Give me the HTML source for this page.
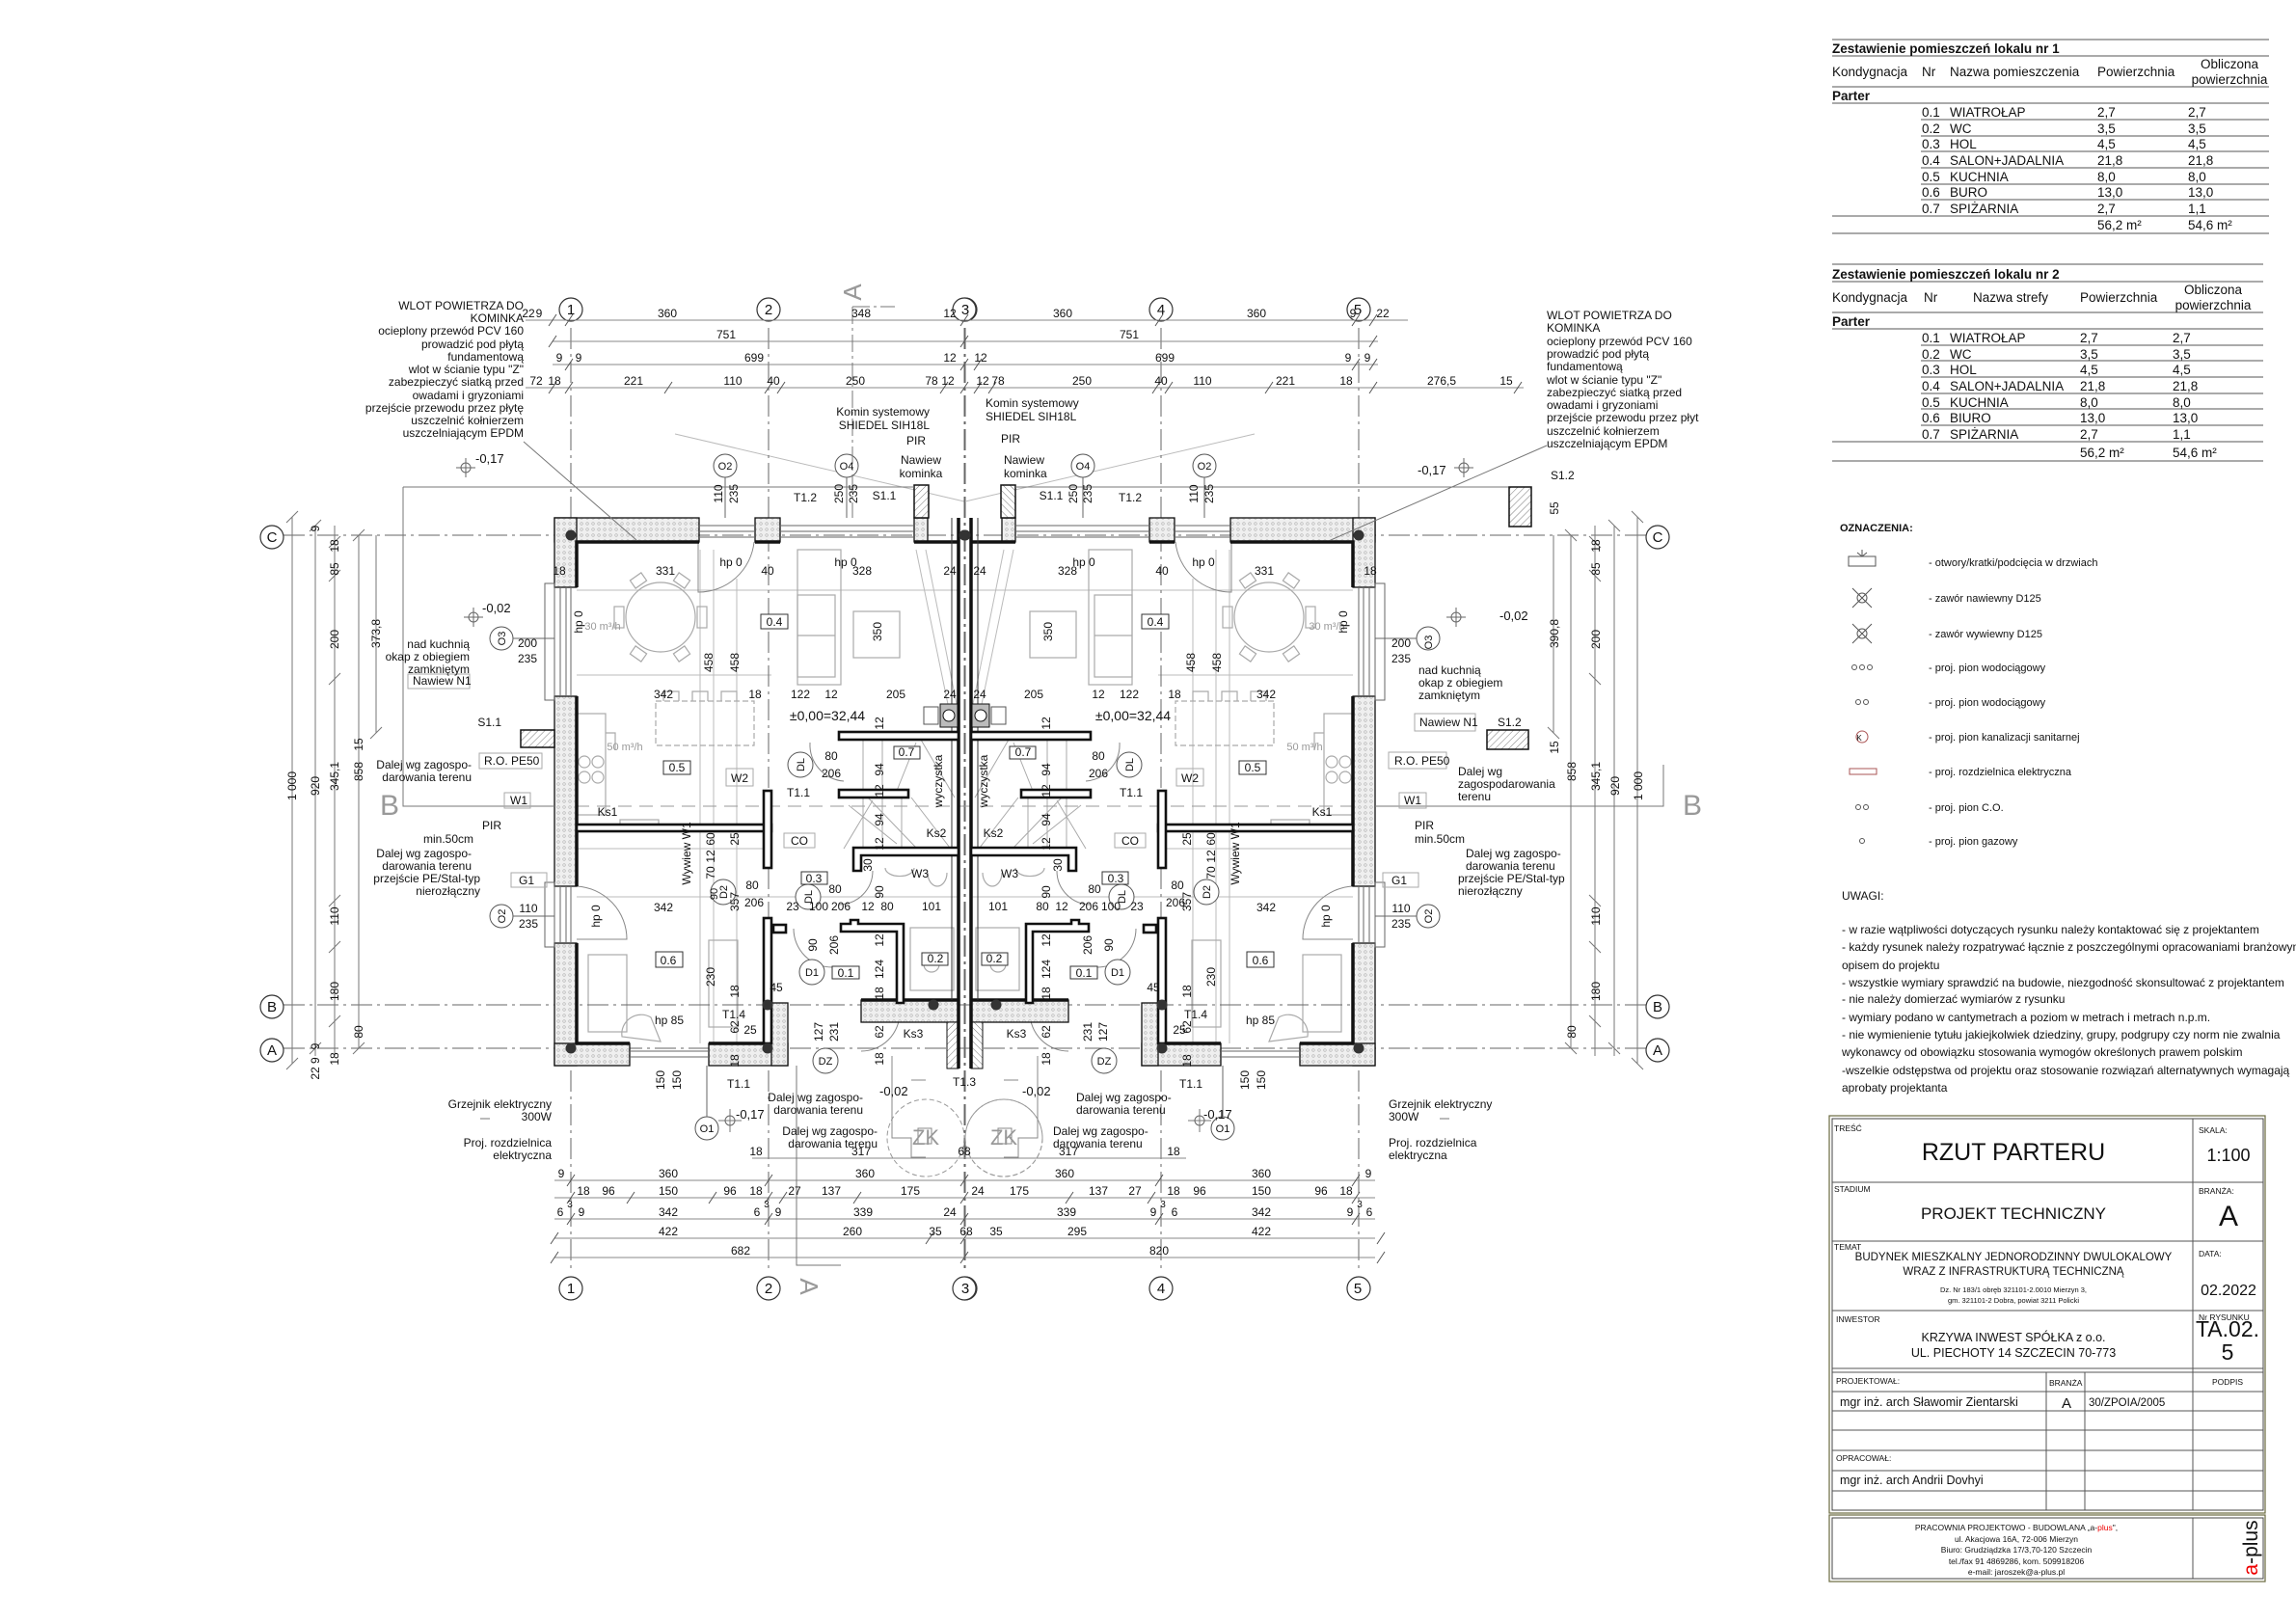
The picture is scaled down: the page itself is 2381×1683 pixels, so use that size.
<!DOCTYPE html>
<html><head><meta charset="utf-8"><style>
html,body{margin:0;padding:0;background:#fff}
svg{display:block}
text{font-family:"Liberation Sans",Arial,sans-serif;fill:#111}
.d{font-size:12px}
.s{font-size:11px}
.g{fill:#999}
.t{font-size:13.5px}
</style></head><body>
<svg width="2381" height="1683" viewBox="0 0 2381 1683" xmlns="http://www.w3.org/2000/svg">
<defs>
<pattern id="ins" width="6" height="6" patternUnits="userSpaceOnUse"><rect width="6" height="6" fill="#efefef"/><circle cx="3" cy="3" r="1.3" fill="none" stroke="#b0b0b0" stroke-width=".6"/></pattern>
<pattern id="hat" width="5" height="5" patternUnits="userSpaceOnUse" patternTransform="rotate(45)"><rect width="5" height="5" fill="#fff"/><line x1="0" y1="0" x2="0" y2="5" stroke="#777" stroke-width="1"/></pattern>
<g id="half">
 <!-- terrace/hatch lines gray -->
 <g stroke="#bbb" stroke-width="1" fill="none">
  <line x1="700" y1="450" x2="1000" y2="520"/>
  <line x1="598" y1="700" x2="800" y2="700"/>
  <line x1="598" y1="612" x2="993" y2="612"/>
  <line x1="598" y1="930" x2="993" y2="930"/>
  <line x1="598" y1="880" x2="800" y2="880"/>
  <line x1="726" y1="570" x2="726" y2="1082"/>
  <line x1="740" y1="570" x2="740" y2="1082"/>
  <line x1="764" y1="600" x2="764" y2="1082"/>
  <line x1="950" y1="570" x2="985" y2="740"/>
  <line x1="960" y1="570" x2="994" y2="740"/>
 </g>
 <!-- furniture -->
 <g stroke="#aaa" stroke-width="1.2" fill="none">
  <circle cx="685" cy="640" r="36"/>
  <rect x="637" y="629" width="10" height="22"/><rect x="723" y="629" width="10" height="22"/>
  <rect x="655" y="597" width="14" height="10" transform="rotate(-35 662 602)"/><rect x="700" y="597" width="14" height="10" transform="rotate(35 707 602)"/>
  <rect x="655" y="673" width="14" height="10" transform="rotate(35 662 678)"/><rect x="700" y="673" width="14" height="10" transform="rotate(-35 707 678)"/>
  <rect x="827" y="617" width="39" height="85"/><line x1="827" y1="659" x2="866" y2="659"/>
  <rect x="827" y="570" width="45" height="140"/>
  <rect x="885" y="634" width="48" height="48"/>
  <rect x="680" y="727" width="102" height="46" stroke-dasharray="6 3"/>
  <path d="M688 727v-10h16v10M718 727v-10h16v10M748 727v-10h16v10"/>
  <rect x="598" y="740" width="30" height="105"/>
  <path d="M628 760h10v18"/>
  <rect x="643" y="850" width="40" height="10"/>
  <circle cx="606" cy="790" r="6"/><circle cx="620" cy="790" r="6"/><circle cx="606" cy="806" r="6"/><circle cx="620" cy="806" r="6"/>
  <rect x="735" y="975" width="30" height="90"/>
  <rect x="610" y="990" width="40" height="80"/>
  <path d="M645 1075a20 20 0 0 1 30 -20l10 25z"/>
  <rect x="944" y="962" width="45" height="65"/>
  <circle cx="966" cy="1000" r="8"/>
  <path d="M918 900a14 8 0 1 0 30 0M962 905a10 14 0 1 0 20 0"/>
 </g>
 <!-- stairs -->
 <g stroke="#aaa" stroke-width="1" fill="none">
  <path d="M895 767v112M915 767v112M935 827v52M955 767l35 60M945 827l40 52M900 827l50 52M950 770l-20 50"/>
  <path d="M875 880l30 -50M880 835l50 40"/>
 </g>
 <!-- doors -->
 <g stroke="#888" stroke-width="1" fill="none">
  <path d="M724 562v52a58 58 0 0 0 58 -52"/>
  <path d="M598 919h52a55 55 0 0 0 -52 -55" transform="translate(0,55)"/>
  <path d="M823 963a40 40 0 0 0 40 40"/>
  <path d="M905 903a35 35 0 0 1 -35 35"/>
  <path d="M840 770a38 38 0 0 0 35 40"/>
  <path d="M933 1050a40 40 0 0 1 -40 40"/>
 </g>
 <!-- grid lines -->
 <g stroke="#666" stroke-width="1" stroke-dasharray="22 5 3 5" fill="none">
  <line x1="592" y1="340" x2="592" y2="1320"/>
  <line x1="797" y1="340" x2="797" y2="1320"/>
  <line x1="1001" y1="340" x2="1001" y2="1320"/>
  <line x1="294" y1="555" x2="1001" y2="555"/>
  <line x1="294" y1="1042" x2="1001" y2="1042"/>
  <line x1="294" y1="1087" x2="1001" y2="1087"/>
 </g>
 <line x1="575" y1="836" x2="1001" y2="836" stroke="#999" stroke-dasharray="14 8"/>
 <!-- outer walls -->
 <g fill="url(#ins)" stroke="#111" stroke-width="1.3">
  <rect x="575" y="537" width="150" height="25"/>
  <rect x="783" y="537" width="26" height="25"/>
  <rect x="948" y="537" width="14" height="25"/>
  <rect x="575" y="537" width="23" height="72"/>
  <rect x="575" y="722" width="23" height="197"/>
  <rect x="575" y="978" width="23" height="127"/>
  <rect x="575" y="1082" width="78" height="23"/>
  <rect x="735" y="1082" width="82" height="23"/>
  <rect x="800" y="1040" width="17" height="65"/>
  <rect x="893" y="1037" width="101" height="23"/>
 </g>
 <rect x="982" y="1060" width="12" height="48" fill="url(#hat)" stroke="#111"/>
 <rect x="948" y="503" width="15" height="34" fill="url(#hat)" stroke="#111" stroke-width="1.5"/>
 <g stroke="#111" stroke-width="3.5" fill="none">
  <path d="M598 609V562H725M783 562H809M948 562H994"/>
  <path d="M598 722V919M598 978V1082H653M735 1082H800"/>
  <path d="M893 1037H994"/>
 </g>
 <!-- windows -->
 <g stroke="#666" stroke-width="1" fill="none">
  <path d="M725 545H783M725 551H783M725 557H783"/>
  <path d="M809 545H948M809 551H948M809 557H948"/>
  <path d="M581 609V722M587 609V722M592 609V722"/>
  <rect x="565" y="605" width="10" height="121"/>
  <path d="M581 919V978M587 919V978M592 919V978"/>
  <rect x="565" y="915" width="10" height="67"/>
  <path d="M653 1090H735M653 1096H735"/>
 </g>
 <!-- party wall -->
 <line x1="994" y1="537" x2="994" y2="1108" stroke="#111" stroke-width="3.5"/>
 <line x1="987" y1="537" x2="987" y2="1037" stroke="#333" stroke-width="1"/>
 <!-- interior walls -->
 <g fill="#fff" stroke="#111" stroke-width="2.6">
  <rect x="598" y="855" width="202" height="7"/>
  <rect x="792" y="820" width="8" height="80"/>
  <rect x="792" y="952" width="8" height="130"/>
  <rect x="870" y="759" width="124" height="8"/>
  <rect x="870" y="819" width="72" height="8"/>
  <path d="M885 879H994v8H893v16h-8z"/>
  <path d="M872 958h10v-4h8v4h47v82h-7v-74h-58z"/>
  <rect x="802" y="959" width="13" height="8"/>
 </g>
 <g fill="#bbb" stroke="#111"><rect x="975" y="730" width="18" height="24"/><circle cx="984" cy="742" r="6" fill="#fff"/></g>
 <rect x="958" y="733" width="15" height="18" fill="#fff" stroke="#555"/>
 <!-- columns -->
 <g fill="#333"><circle cx="592" cy="555" r="5.5"/><circle cx="1000" cy="555" r="5.5"/><circle cx="592" cy="1087" r="5.5"/><circle cx="796" cy="1087" r="5.5"/><circle cx="796" cy="1042" r="5.5"/><circle cx="968" cy="1042" r="5.5"/></g>
 <!-- vertical dims left -->
 <g stroke="#777" stroke-width="1" fill="none">
  <line x1="303" y1="536" x2="303" y2="1103"/><line x1="327" y1="545" x2="327" y2="1095"/>
  <line x1="347" y1="545" x2="347" y2="1095"/><line x1="372" y1="555" x2="372" y2="1087"/>
  <line x1="390" y1="555" x2="390" y2="760"/>
  <path d="M297 542l12-12M321 551l12-12M341 568l12-12M341 603l12-12M341 710l12-12M341 940l12-12M341 988l12-12M341 1065l12-12M366 561l12-12M366 1093l12-12M384 766l12-12M321 1093l12-12M297 1109l12-12"/>
  <path d="M498 1160h10M757 1150v24M745 1162h24"/>
 </g>
 <!-- ZK -->
 <circle cx="960" cy="1180" r="40" fill="none" stroke="#999" stroke-dasharray="5 3"/>
 <path d="M925 1095v85h20v20h15M945 1120h15" fill="none" stroke="#888"/>
 <rect x="952" y="1170" width="14" height="16" fill="none" stroke="#888"/>
 <!-- circle markers -->
 <g fill="#fff" stroke="#555" stroke-width="1">
  <circle cx="830" cy="793" r="13"/><circle cx="838" cy="930" r="13"/><circle cx="842" cy="1008" r="13"/><circle cx="856" cy="1100" r="13"/><circle cx="750" cy="925" r="13"/>
  <circle cx="752" cy="483" r="12"/><circle cx="878" cy="483" r="12"/><circle cx="520" cy="662" r="12"/><circle cx="520" cy="950" r="12"/><circle cx="733" cy="1170" r="12"/>
 </g>
 <g stroke="#666" fill="none">
  <line x1="752" y1="495" x2="752" y2="537"/><line x1="878" y1="495" x2="878" y2="537"/>
  <line x1="532" y1="662" x2="575" y2="662"/><line x1="532" y1="950" x2="575" y2="950"/><line x1="733" y1="1158" x2="733" y2="1105"/>
  <path d="M473 485h20M483 475v20"/><circle cx="483" cy="485" r="5"/>
  <path d="M481 640h20M491 630v20"/><circle cx="491" cy="640" r="5"/>
  <circle cx="757" cy="1162" r="5"/>
 </g>
 <!-- grid circles -->
 <g fill="#fff" stroke="#333" stroke-width="1.2">
  <circle cx="592" cy="321" r="12"/><circle cx="797" cy="321" r="12"/><circle cx="1001" cy="321" r="12"/>
  <circle cx="592" cy="1336" r="12"/><circle cx="797" cy="1336" r="12"/><circle cx="1001" cy="1336" r="12"/>
  <circle cx="282" cy="557" r="12"/><circle cx="282" cy="1044" r="12"/><circle cx="282" cy="1089" r="12"/>
 </g>
</g>
</defs>

<use href="#half"/>
<use href="#half" transform="translate(2001,0) scale(-1,1)"/>

<!-- horizontal dims top/bottom -->
<g stroke="#888" stroke-width="1">
 <line x1="545" y1="332" x2="1460" y2="332"/><line x1="573" y1="354" x2="1429" y2="354"/>
 <line x1="573" y1="378" x2="1429" y2="378"/><line x1="545" y1="402" x2="1580" y2="402"/>
 <line x1="780" y1="1201" x2="1230" y2="1201"/><line x1="575" y1="1224" x2="1426" y2="1224"/>
 <line x1="575" y1="1242" x2="1426" y2="1242"/><line x1="575" y1="1264" x2="1426" y2="1264"/>
 <line x1="575" y1="1284" x2="1426" y2="1284"/><line x1="575" y1="1304" x2="1426" y2="1304"/>
</g>
<g stroke="#555" stroke-width="1">
 <path d="M569 338l8-12M586 338l8-12M996 338l8-12M1198 338l8-12M1402 338l8-12M1420 338l8-12"/>
 <path d="M569 360l8-12M996 360l8-12M1420 360l8-12"/>
 <path d="M586 384l8-12M996 384l8-12M1010 384l8-12M1402 384l8-12M1420 384l8-12"/>
 <path d="M569 408l8-12M586 408l8-12M689 408l8-12M793 408l8-12M806 408l8-12M975 408l8-12M996 408l8-12M1010 408l8-12M1025 408l8-12M1195 408l8-12M1208 408l8-12M1312 408l8-12M1420 408l8-12M1570 408l8-12"/>
 <path d="M588 1230l8-12M793 1230l8-12M996 1230l8-12M1198 1230l8-12M1402 1230l8-12M588 1248l8-12M650 1248l8-12M735 1248l8-12M793 1248l8-12M808 1248l8-12M885 1248l8-12M996 1248l8-12M1105 1248l8-12M1190 1248l8-12M1402 1248l8-12"/>
 <path d="M588 1270l8-12M793 1270l8-12M996 1270l8-12M1198 1270l8-12M1402 1270l8-12M571 1290l8-12M960 1290l8-12M996 1290l8-12M1428 1290l8-12M571 1310l8-12M996 1310l8-12M1428 1310l8-12"/>
</g>
<!-- terrace & section lines -->
<g stroke="#777" stroke-width="1" fill="none">
 <path d="M418 505H948M418 505V836H575"/>
 <path d="M1053 505H1565"/>
 <path d="M1426 836H1725V793"/>
 <path d="M884 318H928M884 318V537" stroke-dasharray="18 4 3 4"/>
 <path d="M826 1105V1312H872"/>
 <line x1="543" y1="458" x2="660" y2="560"/><line x1="1604" y1="462" x2="1380" y2="560"/>
</g>
<rect x="1565" y="505" width="23" height="41" fill="url(#hat)" stroke="#111" stroke-width="1.5"/>
<rect x="540" y="757" width="35" height="18" fill="url(#hat)" stroke="#111" stroke-width="1.5"/>
<rect x="1542" y="757" width="43" height="20" fill="url(#hat)" stroke="#111" stroke-width="1.5"/>
<circle cx="1041" cy="1180" r="40" fill="none" stroke="#999" stroke-dasharray="5 3"/>
<!-- boxes for labels -->
<g fill="#fff" stroke="#333" stroke-width="1">
 <rect x="789" y="637" width="28" height="15"/><rect x="1184" y="637" width="28" height="15"/>
 <rect x="688" y="789" width="28" height="14"/><rect x="1285" y="789" width="28" height="14"/>
 <rect x="927" y="774" width="27" height="13"/><rect x="1047" y="774" width="27" height="13"/>
 <rect x="831" y="904" width="27" height="13"/><rect x="1143" y="904" width="27" height="13"/>
 <rect x="680" y="987" width="28" height="16"/><rect x="1293" y="987" width="28" height="16"/>
 <rect x="863" y="1002" width="28" height="13"/><rect x="1110" y="1002" width="28" height="13"/>
 <rect x="956" y="988" width="27" height="13"/><rect x="1018" y="988" width="27" height="13"/>
</g>
<g fill="none" stroke="#aaa" stroke-width="1">
 <rect x="753" y="797" width="28" height="18"/><rect x="1220" y="797" width="28" height="18"/>
 <rect x="813" y="864" width="32" height="15"/><rect x="1156" y="864" width="32" height="15"/>
 <rect x="423" y="699" width="64" height="15"/><rect x="1467" y="740" width="63" height="18"/>
 <rect x="497" y="781" width="65" height="16"/><rect x="1440" y="780" width="60" height="17"/>
 <rect x="523" y="822" width="27" height="16"/><rect x="1451" y="822" width="28" height="16"/>
 <rect x="530" y="905" width="37" height="15"/><rect x="1434" y="905" width="37" height="15"/>
</g>

<!-- TEXT: plan -->
<g class="d" text-anchor="middle">
 <text x="592" y="326" font-size="15">1</text><text x="797" y="326" font-size="15">2</text><text x="1001" y="326" font-size="15">3</text><text x="1204" y="326" font-size="15">4</text><text x="1408" y="326" font-size="15">5</text>
 <text x="592" y="1341" font-size="15">1</text><text x="797" y="1341" font-size="15">2</text><text x="1001" y="1341" font-size="15">3</text><text x="1204" y="1341" font-size="15">4</text><text x="1408" y="1341" font-size="15">5</text>
 <text x="282" y="562" font-size="15">C</text><text x="282" y="1049" font-size="15">B</text><text x="282" y="1094" font-size="15">A</text>
 <text x="1719" y="562" font-size="15">C</text><text x="1719" y="1049" font-size="15">B</text><text x="1719" y="1094" font-size="15">A</text>
 <text x="548" y="329">22</text><text x="559" y="329">9</text><text x="692" y="329">360</text><text x="893" y="329">348</text><text x="985" y="329">12</text><text x="1102" y="329">360</text><text x="1303" y="329">360</text><text x="1403" y="329">9</text><text x="1434" y="329">22</text>
 <text x="753" y="351">751</text><text x="1171" y="351">751</text>
 <text x="580" y="375">9</text><text x="600" y="375">9</text><text x="782" y="375">699</text><text x="985" y="375">12</text><text x="1017" y="375">12</text><text x="1208" y="375">699</text><text x="1398" y="375">9</text><text x="1418" y="375">9</text>
 <text x="556" y="399">72</text><text x="575" y="399">18</text><text x="657" y="399">221</text><text x="760" y="399">110</text><text x="802" y="399">40</text><text x="887" y="399">250</text><text x="966" y="399">78</text><text x="983" y="399">12</text><text x="1019" y="399">12</text><text x="1035" y="399">78</text><text x="1122" y="399">250</text><text x="1204" y="399">40</text><text x="1247" y="399">110</text><text x="1333" y="399">221</text><text x="1396" y="399">18</text><text x="1495" y="399">276,5</text><text x="1562" y="399">15</text>
 <text x="784" y="1198">18</text><text x="893" y="1198">317</text><text x="1000" y="1198">68</text><text x="1108" y="1198">317</text><text x="1217" y="1198">18</text>
 <text x="582" y="1221">9</text><text x="693" y="1221">360</text><text x="897" y="1221">360</text><text x="1104" y="1221">360</text><text x="1308" y="1221">360</text><text x="1419" y="1221">9</text>
 <text x="605" y="1239">18</text><text x="631" y="1239">96</text><text x="693" y="1239">150</text><text x="757" y="1239">96</text><text x="784" y="1239">18</text><text x="824" y="1239">27</text><text x="862" y="1239">137</text><text x="944" y="1239">175</text><text x="1014" y="1239">24</text><text x="1057" y="1239">175</text><text x="1139" y="1239">137</text><text x="1177" y="1239">27</text><text x="1217" y="1239">18</text><text x="1244" y="1239">96</text><text x="1308" y="1239">150</text><text x="1370" y="1239">96</text><text x="1396" y="1239">18</text>
 <text x="591" y="1252" font-size="10">3</text><text x="795" y="1252" font-size="10">3</text><text x="1206" y="1252" font-size="10">3</text><text x="1410" y="1252" font-size="10">3</text>
 <text x="581" y="1261">6</text><text x="603" y="1261">9</text><text x="693" y="1261">342</text><text x="785" y="1261">6</text><text x="807" y="1261">9</text><text x="895" y="1261">339</text><text x="985" y="1261">24</text><text x="1106" y="1261">339</text><text x="1196" y="1261">9</text><text x="1218" y="1261">6</text><text x="1308" y="1261">342</text><text x="1400" y="1261">9</text><text x="1420" y="1261">6</text>
 <text x="693" y="1281">422</text><text x="884" y="1281">260</text><text x="970" y="1281">35</text><text x="1002" y="1281">68</text><text x="1033" y="1281">35</text><text x="1117" y="1281">295</text><text x="1308" y="1281">422</text>
 <text x="768" y="1301">682</text><text x="1202" y="1301">820</text>
 <!-- interior -->
 <text x="580" y="596">18</text><text x="690" y="596">331</text><text x="796" y="596">40</text><text x="894" y="596">328</text><text x="985" y="596">24</text>
 <text x="1421" y="596">18</text><text x="1311" y="596">331</text><text x="1205" y="596">40</text><text x="1107" y="596">328</text><text x="1016" y="596">24</text>
 <text x="758" y="587">hp 0</text><text x="877" y="587">hp 0</text><text x="1124" y="587">hp 0</text><text x="1248" y="587">hp 0</text>
 <text x="803" y="649">0.4</text><text x="1198" y="649">0.4</text>
 <text x="688" y="724">342</text><text x="783" y="724">18</text><text x="830" y="724">122</text><text x="862" y="724">12</text><text x="929" y="724">205</text><text x="985" y="724">24</text>
 <text x="1313" y="724">342</text><text x="1218" y="724">18</text><text x="1171" y="724">122</text><text x="1139" y="724">12</text><text x="1072" y="724">205</text><text x="1016" y="724">24</text>
 <text x="858" y="747" font-size="14">±0,00=32,44</text><text x="1175" y="747" font-size="14">±0,00=32,44</text>
 <text x="940" y="784">0.7</text><text x="1061" y="784">0.7</text>
 <text x="862" y="788">80</text><text x="862" y="806">206</text><text x="1139" y="788">80</text><text x="1139" y="806">206</text>
 <text x="702" y="800">0.5</text><text x="1299" y="800">0.5</text>
 <text x="767" y="811">W2</text><text x="1234" y="811">W2</text>
 <text x="828" y="826">T1.1</text><text x="1173" y="826">T1.1</text>
 <text x="630" y="846">Ks1</text><text x="1371" y="846">Ks1</text>
 <text x="971" y="868">Ks2</text><text x="1030" y="868">Ks2</text>
 <text x="829" y="876">CO</text><text x="1172" y="876">CO</text>
 <text x="844" y="915">0.3</text><text x="1157" y="915">0.3</text>
 <text x="954" y="910">W3</text><text x="1047" y="910">W3</text>
 <text x="780" y="922">80</text><text x="782" y="940">206</text><text x="1221" y="922">80</text><text x="1219" y="940">206</text>
 <text x="866" y="926">80</text><text x="1135" y="926">80</text>
 <text x="688" y="945">342</text><text x="1313" y="945">342</text>
 <text x="822" y="944">23</text><text x="849" y="944">100</text><text x="872" y="944">206</text><text x="900" y="944">12</text><text x="920" y="944">80</text><text x="966" y="944">101</text>
 <text x="1179" y="944">23</text><text x="1152" y="944">100</text><text x="1129" y="944">206</text><text x="1101" y="944">12</text><text x="1081" y="944">80</text><text x="1035" y="944">101</text>
 <text x="970" y="998">0.2</text><text x="1031" y="998">0.2</text>
 <text x="693" y="1000">0.6</text><text x="1307" y="1000">0.6</text>
 <text x="877" y="1013">0.1</text><text x="1124" y="1013">0.1</text>
 <text x="805" y="1028">45</text><text x="1196" y="1028">45</text>
 <text x="761" y="1056">T1.4</text><text x="1240" y="1056">T1.4</text>
 <text x="694" y="1062">hp 85</text><text x="1307" y="1062">hp 85</text>
 <text x="778" y="1072">25</text><text x="1223" y="1072">25</text>
 <text x="947" y="1076">Ks3</text><text x="1054" y="1076">Ks3</text>
 <text x="766" y="1128">T1.1</text><text x="1000" y="1126">T1.3</text><text x="1235" y="1128">T1.1</text>
 <text x="830" y="797" font-size="11" transform="rotate(-90 830 793)">DL</text><text x="1171" y="797" font-size="11" transform="rotate(-90 1171 793)">DL</text>
 <text x="838" y="934" font-size="11" transform="rotate(-90 838 930)">DL</text><text x="1163" y="934" font-size="11" transform="rotate(-90 1163 930)">DL</text>
 <text x="750" y="929" font-size="11" transform="rotate(-90 750 925)">D2</text><text x="1251" y="929" font-size="11" transform="rotate(-90 1251 925)">D2</text>
 <text x="842" y="1012" font-size="11">D1</text><text x="1159" y="1012" font-size="11">D1</text>
 <text x="856" y="1104" font-size="11">DZ</text><text x="1145" y="1104" font-size="11">DZ</text>
 <text x="752" y="487" font-size="11">O2</text><text x="878" y="487" font-size="11">O4</text><text x="1123" y="487" font-size="11">O4</text><text x="1249" y="487" font-size="11">O2</text>
 <text x="520" y="666" font-size="11" transform="rotate(-90 520 662)">O3</text><text x="520" y="954" font-size="11" transform="rotate(-90 520 950)">O2</text>
 <text x="1481" y="670" font-size="11" transform="rotate(-90 1481 666)">O3</text><text x="1481" y="954" font-size="11" transform="rotate(-90 1481 950)">O2</text>
 <text x="733" y="1174" font-size="11">O1</text><text x="1268" y="1174" font-size="11">O1</text>
 <text x="547" y="671">200</text><text x="547" y="687">235</text><text x="1453" y="671">200</text><text x="1453" y="687">235</text>
 <text x="548" y="946">110</text><text x="548" y="962">235</text><text x="1453" y="946">110</text><text x="1453" y="962">235</text>
 <text x="835" y="520">T1.2</text><text x="1172" y="520">T1.2</text>
 <text x="917" y="518">S1.1</text><text x="1090" y="518">S1.1</text>
 <text x="960" y="1187" font-size="22" class="g">ZK</text><text x="1041" y="1187" font-size="22" class="g">ZK</text>
 <text x="404" y="845" font-size="30" class="g">B</text><text x="1755" y="845" font-size="30" class="g">B</text>
 <text x="884" y="312" font-size="26" class="g" transform="rotate(-90 884 303)">A</text>
 <text x="838" y="1342" font-size="26" class="g" transform="rotate(90 838 1334)">A</text>
 <text x="648" y="778" class="g" font-size="11">50 m³/h</text><text x="1353" y="778" class="g" font-size="11">50 m³/h</text>
 <text x="625" y="653" class="g" font-size="11">30 m³/h</text><text x="1376" y="653" class="g" font-size="11">30 m³/h</text>
</g>
<!-- rotated dims -->
<g class="d" text-anchor="middle">
 <text transform="translate(307,815) rotate(-90)">1 000</text><text transform="translate(331,815) rotate(-90)">920</text><text transform="translate(351,805) rotate(-90)">345,1</text><text transform="translate(376,800) rotate(-90)">858</text><text transform="translate(394,657) rotate(-90)">373,8</text>
 <text transform="translate(351,663) rotate(-90)">200</text><text transform="translate(351,590) rotate(-90)">85</text><text transform="translate(351,566) rotate(-90)">18</text><text transform="translate(351,950) rotate(-90)">110</text><text transform="translate(351,1028) rotate(-90)">180</text><text transform="translate(376,1070) rotate(-90)">80</text><text transform="translate(376,772) rotate(-90)">15</text>
 <text transform="translate(331,548) rotate(-90)">9</text><text transform="translate(331,1085) rotate(-90)">9</text><text transform="translate(351,1098) rotate(-90)">18</text><text transform="translate(331,1108) rotate(-90)">22 9</text>
 <text transform="translate(1703,815) rotate(-90)">1 000</text><text transform="translate(1679,815) rotate(-90)">920</text><text transform="translate(1659,805) rotate(-90)">345,1</text><text transform="translate(1634,800) rotate(-90)">858</text><text transform="translate(1616,657) rotate(-90)">390,8</text>
 <text transform="translate(1659,663) rotate(-90)">200</text><text transform="translate(1659,590) rotate(-90)">85</text><text transform="translate(1659,566) rotate(-90)">18</text><text transform="translate(1659,950) rotate(-90)">110</text><text transform="translate(1659,1028) rotate(-90)">180</text><text transform="translate(1634,1070) rotate(-90)">80</text><text transform="translate(1616,775) rotate(-90)">15</text><text transform="translate(1616,527) rotate(-90)">55</text>
 <text transform="translate(914,655) rotate(-90)">350</text><text transform="translate(1091,655) rotate(-90)">350</text>
 <text transform="translate(739,687) rotate(-90)">458</text><text transform="translate(766,687) rotate(-90)">458</text><text transform="translate(1239,687) rotate(-90)">458</text><text transform="translate(1266,687) rotate(-90)">458</text>
 <text transform="translate(749,512) rotate(-90)">110</text><text transform="translate(765,512) rotate(-90)">235</text><text transform="translate(874,512) rotate(-90)">250</text><text transform="translate(889,512) rotate(-90)">235</text>
 <text transform="translate(1117,512) rotate(-90)">250</text><text transform="translate(1132,512) rotate(-90)">235</text><text transform="translate(1242,512) rotate(-90)">110</text><text transform="translate(1258,512) rotate(-90)">235</text>
 <text transform="translate(916,750) rotate(-90)">12</text><text transform="translate(916,798) rotate(-90)">94</text><text transform="translate(916,820) rotate(-90)">12</text><text transform="translate(916,850) rotate(-90)">94</text><text transform="translate(916,875) rotate(-90)">12</text><text transform="translate(904,897) rotate(-90)">30</text><text transform="translate(916,925) rotate(-90)">90</text><text transform="translate(916,975) rotate(-90)">12</text><text transform="translate(916,1005) rotate(-90)">124</text><text transform="translate(916,1030) rotate(-90)">18</text><text transform="translate(916,1070) rotate(-90)">62</text><text transform="translate(916,1098) rotate(-90)">18</text>
 <text transform="translate(1089,750) rotate(-90)">12</text><text transform="translate(1089,798) rotate(-90)">94</text><text transform="translate(1089,820) rotate(-90)">12</text><text transform="translate(1089,850) rotate(-90)">94</text><text transform="translate(1089,875) rotate(-90)">12</text><text transform="translate(1101,897) rotate(-90)">30</text><text transform="translate(1089,925) rotate(-90)">90</text><text transform="translate(1089,975) rotate(-90)">12</text><text transform="translate(1089,1005) rotate(-90)">124</text><text transform="translate(1089,1030) rotate(-90)">18</text><text transform="translate(1089,1070) rotate(-90)">62</text><text transform="translate(1089,1098) rotate(-90)">18</text>
 <text transform="translate(744,927) rotate(-90)" font-size="11">90</text><text transform="translate(766,935) rotate(-90)">357</text><text transform="translate(1235,935) rotate(-90)">357</text>
 <text transform="translate(847,980) rotate(-90)">90</text><text transform="translate(869,980) rotate(-90)">206</text><text transform="translate(1154,980) rotate(-90)">90</text><text transform="translate(1132,980) rotate(-90)">206</text>
 <text transform="translate(853,1070) rotate(-90)">127</text><text transform="translate(869,1070) rotate(-90)">231</text><text transform="translate(1148,1070) rotate(-90)">127</text><text transform="translate(1132,1070) rotate(-90)">231</text>
 <text transform="translate(741,1013) rotate(-90)">230</text><text transform="translate(766,1028) rotate(-90)">18</text><text transform="translate(766,1065) rotate(-90)">62</text><text transform="translate(766,1100) rotate(-90)">18</text>
 <text transform="translate(1260,1013) rotate(-90)">230</text><text transform="translate(1235,1028) rotate(-90)">18</text><text transform="translate(1235,1065) rotate(-90)">62</text><text transform="translate(1235,1100) rotate(-90)">18</text>
 <text transform="translate(741,870) rotate(-90)">60</text><text transform="translate(766,870) rotate(-90)">25</text><text transform="translate(741,888) rotate(-90)">12</text><text transform="translate(741,905) rotate(-90)">70</text>
 <text transform="translate(1260,870) rotate(-90)">60</text><text transform="translate(1235,870) rotate(-90)">25</text><text transform="translate(1260,888) rotate(-90)">12</text><text transform="translate(1260,905) rotate(-90)">70</text>
 <text transform="translate(689,1120) rotate(-90)">150</text><text transform="translate(706,1120) rotate(-90)">150</text><text transform="translate(1312,1120) rotate(-90)">150</text><text transform="translate(1295,1120) rotate(-90)">150</text>
 <text transform="translate(622,950) rotate(-90)">hp 0</text><text transform="translate(1379,950) rotate(-90)">hp 0</text>
 <text transform="translate(604,645) rotate(-90)">hp 0</text><text transform="translate(1397,645) rotate(-90)">hp 0</text>
 <text transform="translate(716,885) rotate(-90)">Wywiew W1</text><text transform="translate(1285,885) rotate(-90)">Wywiew W1</text>
 <text transform="translate(977,810) rotate(-90)">wyczystka</text><text transform="translate(1024,810) rotate(-90)">wyczystka</text>
</g>
<!-- annotation texts -->
<g class="d" text-anchor="end">
 <text x="543" y="321">WLOT POWIETRZA DO</text><text x="543" y="334">KOMINKA</text><text x="543" y="347">ocieplony przewód PCV  160</text><text x="543" y="361">prowadzić pod płytą</text><text x="543" y="374">fundamentową</text><text x="543" y="387">wlot w ścianie typu "Z"</text><text x="543" y="400">zabezpieczyć siatką przed</text><text x="543" y="414">owadami i gryzoniami</text><text x="543" y="427">przejście przewodu przez płytę</text><text x="543" y="440">uszczelnić kołnierzem</text><text x="543" y="453">uszczelniającym EPDM</text>
 <text x="964" y="431">Komin systemowy</text><text x="964" y="445">SHIEDEL SIH18L</text><text x="960" y="461">PIR</text><text x="955" y="481" text-anchor="middle">Nawiew</text><text x="955" y="495" text-anchor="middle">kominka</text>
 <text x="487" y="672">nad kuchnią</text><text x="487" y="685">okap z obiegiem</text><text x="487" y="698">zamkniętym</text>
 <text x="520" y="753">S1.1</text>
 <text x="489" y="797">Dalej wg zagospo-</text><text x="489" y="810">darowania terenu</text>
 <text x="520" y="860">PIR</text><text x="491" y="874">min.50cm</text>
 <text x="489" y="889">Dalej wg zagospo-</text><text x="489" y="902">darowania terenu</text>
 <text x="498" y="915">przejście PE/Stal-typ</text><text x="498" y="928">nierozłączny</text>
 <text x="572" y="1149">Grzejnik elektryczny</text><text x="572" y="1162">300W</text>
 <text x="572" y="1189">Proj. rozdzielnica</text><text x="572" y="1202">elektryczna</text>
 <text x="895" y="1142">Dalej wg zagospo-</text><text x="895" y="1155">darowania terenu</text>
 <text x="910" y="1177">Dalej wg zagospo-</text><text x="910" y="1190">darowania terenu</text>
</g>
<g class="d" text-anchor="start">
 <text x="1604" y="331">WLOT POWIETRZA DO</text><text x="1604" y="344">KOMINKA</text><text x="1604" y="358">ocieplony przewód PCV  160</text><text x="1604" y="371">prowadzić pod płytą</text><text x="1604" y="384">fundamentową</text><text x="1604" y="398">wlot w ścianie typu "Z"</text><text x="1604" y="411">zabezpieczyć siatką przed</text><text x="1604" y="424">owadami i gryzoniami</text><text x="1604" y="437">przejście przewodu przez płyt</text><text x="1604" y="451">uszczelnić kołnierzem</text><text x="1604" y="464">uszczelniającym EPDM</text>
 <text x="1022" y="422">Komin systemowy</text><text x="1022" y="436">SHIEDEL SIH18L</text><text x="1038" y="459">PIR</text><text x="1041" y="481">Nawiew</text><text x="1041" y="495">kominka</text>
 <text x="1471" y="699">nad kuchnią</text><text x="1471" y="712">okap z obiegiem</text><text x="1471" y="725">zamkniętym</text>
 <text x="1472" y="753">Nawiew N1</text><text x="1553" y="753">S1.2</text>
 <text x="1446" y="793">R.O. PE50</text>
 <text x="1512" y="804">Dalej wg</text><text x="1512" y="817">zagospodarowania</text><text x="1512" y="830">terenu</text>
 <text x="1456" y="834">W1</text><text x="1467" y="860">PIR</text><text x="1467" y="874">min.50cm</text>
 <text x="1520" y="889">Dalej wg zagospo-</text><text x="1520" y="902">darowania terenu</text>
 <text x="1512" y="915">przejście PE/Stal-typ</text><text x="1512" y="928">nierozłączny</text>
 <text x="1440" y="1149">Grzejnik elektryczny</text><text x="1440" y="1162">300W</text>
 <text x="1440" y="1189">Proj. rozdzielnica</text><text x="1440" y="1202">elektryczna</text>
 <text x="1116" y="1142">Dalej wg zagospo-</text><text x="1116" y="1155">darowania terenu</text>
 <text x="1092" y="1177">Dalej wg zagospo-</text><text x="1092" y="1190">darowania terenu</text>
 <text x="1608" y="497">S1.2</text>
 <text x="428" y="710">Nawiew N1</text><text x="502" y="793">R.O. PE50</text><text x="529" y="834">W1</text><text x="538" y="917">G1</text><text x="1443" y="917">G1</text>
 <text x="493" y="480" font-size="13">-0,17</text><text x="1470" y="492" font-size="13">-0,17</text>
 <text x="500" y="635" font-size="13">-0,02</text><text x="1555" y="643" font-size="13">-0,02</text>
 <text x="763" y="1160" font-size="13">-0,17</text><text x="1248" y="1160" font-size="13">-0,17</text>
 <text x="912" y="1136" font-size="13">-0,02</text><text x="1060" y="1136" font-size="13">-0,02</text>
</g>

<!-- TABLES -->
<g class="t">
 <g stroke="#555" stroke-width="1">
  <line x1="1900" y1="41" x2="2353" y2="41"/><line x1="1900" y1="58" x2="2353" y2="58"/><line x1="1900" y1="90" x2="2353" y2="90"/><line x1="1900" y1="107" x2="2353" y2="107"/>
  <line x1="1992" y1="124" x2="2353" y2="124"/><line x1="1992" y1="141" x2="2353" y2="141"/><line x1="1992" y1="157" x2="2353" y2="157"/><line x1="1992" y1="174" x2="2353" y2="174"/><line x1="1992" y1="191" x2="2353" y2="191"/><line x1="1992" y1="207" x2="2353" y2="207"/>
  <line x1="1900" y1="224" x2="2353" y2="224"/><line x1="1900" y1="242" x2="2353" y2="242"/>
  <line x1="1900" y1="274" x2="2347" y2="274"/><line x1="1900" y1="292" x2="2347" y2="292"/><line x1="1900" y1="324" x2="2347" y2="324"/><line x1="1900" y1="341" x2="2347" y2="341"/>
  <line x1="1992" y1="358" x2="2347" y2="358"/><line x1="1992" y1="374" x2="2347" y2="374"/><line x1="1992" y1="391" x2="2347" y2="391"/><line x1="1992" y1="408" x2="2347" y2="408"/><line x1="1992" y1="424" x2="2347" y2="424"/><line x1="1992" y1="441" x2="2347" y2="441"/>
  <line x1="1900" y1="458" x2="2347" y2="458"/><line x1="1900" y1="478" x2="2347" y2="478"/>
 </g>
 <text x="1900" y="55" font-weight="bold">Zestawienie pomieszczeń lokalu nr 1</text>
 <text x="1900" y="79">Kondygnacja</text><text x="1993" y="79">Nr</text><text x="2022" y="79">Nazwa pomieszczenia</text><text x="2175" y="79">Powierzchnia</text>
 <text x="2312" y="71" text-anchor="middle">Obliczona</text><text x="2312" y="87" text-anchor="middle">powierzchnia</text>
 <text x="1900" y="104" font-weight="bold">Parter</text>
 <g>
 <text x="1993" y="121">0.1</text><text x="2022" y="121">WIATROŁAP</text><text x="2175" y="121">2,7</text><text x="2269" y="121">2,7</text>
 <text x="1993" y="138">0.2</text><text x="2022" y="138">WC</text><text x="2175" y="138">3,5</text><text x="2269" y="138">3,5</text>
 <text x="1993" y="154">0.3</text><text x="2022" y="154">HOL</text><text x="2175" y="154">4,5</text><text x="2269" y="154">4,5</text>
 <text x="1993" y="171">0.4</text><text x="2022" y="171">SALON+JADALNIA</text><text x="2175" y="171">21,8</text><text x="2269" y="171">21,8</text>
 <text x="1993" y="188">0.5</text><text x="2022" y="188">KUCHNIA</text><text x="2175" y="188">8,0</text><text x="2269" y="188">8,0</text>
 <text x="1993" y="204">0.6</text><text x="2022" y="204">BURO</text><text x="2175" y="204">13,0</text><text x="2269" y="204">13,0</text>
 <text x="1993" y="221">0.7</text><text x="2022" y="221">SPIŻARNIA</text><text x="2175" y="221">2,7</text><text x="2269" y="221">1,1</text>
 <text x="2175" y="238">56,2 m²</text><text x="2269" y="238">54,6 m²</text>
 </g>
 <text x="1900" y="289" font-weight="bold">Zestawienie pomieszczeń lokalu nr 2</text>
 <text x="1900" y="313">Kondygnacja</text><text x="1995" y="313">Nr</text><text x="2085" y="313" text-anchor="middle">Nazwa strefy</text><text x="2157" y="313">Powierzchnia</text>
 <text x="2295" y="305" text-anchor="middle">Obliczona</text><text x="2295" y="321" text-anchor="middle">powierzchnia</text>
 <text x="1900" y="338" font-weight="bold">Parter</text>
 <text x="1993" y="355">0.1</text><text x="2022" y="355">WIATROŁAP</text><text x="2157" y="355">2,7</text><text x="2253" y="355">2,7</text>
 <text x="1993" y="372">0.2</text><text x="2022" y="372">WC</text><text x="2157" y="372">3,5</text><text x="2253" y="372">3,5</text>
 <text x="1993" y="388">0.3</text><text x="2022" y="388">HOL</text><text x="2157" y="388">4,5</text><text x="2253" y="388">4,5</text>
 <text x="1993" y="405">0.4</text><text x="2022" y="405">SALON+JADALNIA</text><text x="2157" y="405">21,8</text><text x="2253" y="405">21,8</text>
 <text x="1993" y="422">0.5</text><text x="2022" y="422">KUCHNIA</text><text x="2157" y="422">8,0</text><text x="2253" y="422">8,0</text>
 <text x="1993" y="438">0.6</text><text x="2022" y="438">BIURO</text><text x="2157" y="438">13,0</text><text x="2253" y="438">13,0</text>
 <text x="1993" y="455">0.7</text><text x="2022" y="455">SPIŻARNIA</text><text x="2157" y="455">2,7</text><text x="2253" y="455">1,1</text>
 <text x="2157" y="474">56,2 m²</text><text x="2253" y="474">54,6 m²</text>
</g>

<!-- LEGEND -->
<g font-size="11">
 <text x="1908" y="551" font-weight="bold" font-size="11">OZNACZENIA:</text>
 <text x="2000" y="587">- otwory/kratki/podcięcia w drzwiach</text>
 <text x="2000" y="624">- zawór nawiewny D125</text>
 <text x="2000" y="661">- zawór wywiewny D125</text>
 <text x="2000" y="696">- proj. pion wodociągowy</text>
 <text x="2000" y="732">- proj. pion wodociągowy</text>
 <text x="2000" y="768">- proj. pion kanalizacji sanitarnej</text>
 <text x="2000" y="804">- proj. rozdzielnica elektryczna</text>
 <text x="2000" y="841">- proj. pion C.O.</text>
 <text x="2000" y="876">- proj. pion gazowy</text>
</g>
<g stroke="#555" fill="none" stroke-width="1">
 <path d="M1917 577h28v10h-28zM1931 570v7M1926 573l5 4 5-4"/>
 <circle cx="1931" cy="620" r="5"/><path d="M1921 610l20 20M1941 610l-20 20"/>
 <circle cx="1931" cy="657" r="5"/><path d="M1921 647l20 20M1941 647l-20 20"/>
 <circle cx="1923" cy="692" r="2.5"/><circle cx="1931" cy="692" r="2.5"/><circle cx="1939" cy="692" r="2.5"/>
 <circle cx="1927" cy="728" r="2.5"/><circle cx="1935" cy="728" r="2.5"/>
 <circle cx="1931" cy="764" r="6" stroke="#a55"/>
 <rect x="1918" y="797" width="28" height="6" stroke="#a55"/>
 <circle cx="1927" cy="837" r="2.5"/><circle cx="1935" cy="837" r="2.5"/>
 <circle cx="1931" cy="872" r="2.5"/>
</g>
<text x="1928" y="768" font-size="8" text-anchor="middle" fill="#a55">K</text>

<!-- UWAGI -->
<g font-size="12">
 <text x="1910" y="933">UWAGI:</text>
 <text x="1910" y="968">- w razie wątpliwości dotyczących rysunku należy kontaktować się z projektantem</text>
 <text x="1910" y="986">- każdy rysunek należy rozpatrywać łącznie z poszczególnymi opracowaniami branżowymi i</text>
 <text x="1910" y="1005">opisem do projektu</text>
 <text x="1910" y="1023">- wszystkie wymiary sprawdzić na budowie, niezgodność skonsultować z projektantem</text>
 <text x="1910" y="1040">- nie należy domierzać wymiarów z rysunku</text>
 <text x="1910" y="1059">- wymiary podano w cantymetrach a poziom w metrach i metrach n.p.m.</text>
 <text x="1910" y="1077">- nie wymienienie tytułu jakiejkolwiek dziedziny, grupy, podgrupy czy norm nie zwalnia</text>
 <text x="1910" y="1095">wykonawcy od obowiązku stosowania wymogów określonych prawem polskim</text>
 <text x="1910" y="1114">-wszelkie odstępstwa od projektu oraz stosowanie rozwiązań alternatywnych wymagają</text>
 <text x="1910" y="1132">aprobaty projektanta</text>
</g>

<!-- TITLE BLOCK -->
<g fill="none">
 <rect x="1897" y="1157" width="452" height="412" stroke="#6a6a40" stroke-width="1.2"/>
 <rect x="1900" y="1160" width="447" height="406" stroke="#444"/>
 <rect x="1897" y="1571" width="452" height="69" stroke="#6a6a40" stroke-width="1.2"/>
 <rect x="1900" y="1574" width="447" height="63" stroke="#444"/>
 <g stroke="#555">
  <line x1="1900" y1="1226" x2="2347" y2="1226"/><line x1="1900" y1="1287" x2="2347" y2="1287"/><line x1="1900" y1="1359" x2="2347" y2="1359"/><line x1="1900" y1="1419" x2="2347" y2="1419"/><line x1="1900" y1="1423" x2="2347" y2="1423"/>
  <line x1="1900" y1="1443" x2="2347" y2="1443"/><line x1="1900" y1="1463" x2="2347" y2="1463"/><line x1="1900" y1="1483" x2="2347" y2="1483"/><line x1="1900" y1="1504" x2="2347" y2="1504"/><line x1="1900" y1="1525" x2="2347" y2="1525"/><line x1="1900" y1="1546" x2="2347" y2="1546"/>
  <line x1="2274" y1="1160" x2="2274" y2="1566"/><line x1="2122" y1="1423" x2="2122" y2="1566"/><line x1="2162" y1="1423" x2="2162" y2="1566"/><line x1="2274" y1="1574" x2="2274" y2="1637"/>
 </g>
</g>
<g font-size="8.5">
 <text x="1902" y="1173">TREŚĆ</text><text x="2280" y="1175">SKALA:</text>
 <text x="1902" y="1236">STADIUM</text><text x="2280" y="1238">BRANŻA:</text>
 <text x="1902" y="1296">TEMAT</text><text x="2280" y="1303">DATA:</text>
 <text x="1904" y="1371">INWESTOR</text><text x="2280" y="1369">Nr RYSUNKU</text>
 <text x="1904" y="1435">PROJEKTOWAŁ:</text><text x="2125" y="1437">BRANŻA</text><text x="2310" y="1436" text-anchor="middle">PODPIS</text>
 <text x="1904" y="1515">OPRACOWAŁ:</text>
</g>
<g text-anchor="middle">
 <text x="2088" y="1203" font-size="25">RZUT PARTERU</text>
 <text x="2311" y="1204" font-size="18">1:100</text>
 <text x="2088" y="1264" font-size="17">PROJEKT TECHNICZNY</text>
 <text x="2311" y="1271" font-size="30">A</text>
 <text x="2088" y="1307" font-size="11.5">BUDYNEK MIESZKALNY JEDNORODZINNY DWULOKALOWY</text>
 <text x="2088" y="1322" font-size="11.5">WRAZ Z INFRASTRUKTURĄ TECHNICZNĄ</text>
 <text x="2088" y="1340" font-size="7.5">Dz. Nr 183/1 obręb 321101-2.0010  Mierzyn 3,</text>
 <text x="2088" y="1351" font-size="7.5">gm. 321101-2 Dobra, powiat 3211 Policki</text>
 <text x="2311" y="1343" font-size="16">02.2022</text>
 <text x="2088" y="1391" font-size="12.5">KRZYWA INWEST SPÓŁKA z o.o.</text>
 <text x="2088" y="1407" font-size="12.5">UL. PIECHOTY 14 SZCZECIN 70-773</text>
 <text x="2310" y="1386" font-size="23">TA.02.</text>
 <text x="2310" y="1410" font-size="23">5</text>
 <text x="2143" y="1460" font-size="15">A</text>
 <g font-size="8.5">
  <text x="2091" y="1587">PRACOWNIA PROJEKTOWO - BUDOWLANA  „a-<tspan fill="#e00">plus</tspan>",</text>
  <text x="2091" y="1599">ul. Akacjowa 16A, 72-006 Mierzyn</text>
  <text x="2091" y="1610">Biuro: Grudziądzka 17/3,70-120 Szczecin</text>
  <text x="2091" y="1622">tel./fax 91 4869286, kom. 509918206</text>
  <text x="2091" y="1633">e-mail: jaroszek@a-plus.pl</text>
 </g>
 <text transform="translate(2341,1605) rotate(-90)" font-size="21"><tspan fill="#e00">a</tspan>-plus</text>
</g>
<g font-size="12.5">
 <text x="1908" y="1458">mgr inż. arch Sławomir Zientarski</text>
 <text x="2166" y="1458" font-size="11.5">30/ZPOIA/2005</text>
 <text x="1908" y="1539">mgr inż. arch Andrii Dovhyi</text>
</g>
</svg>
</body></html>
